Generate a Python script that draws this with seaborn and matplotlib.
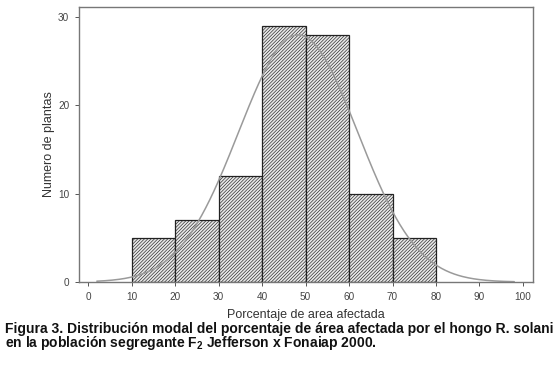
import numpy as np
import pandas as pd
import matplotlib
matplotlib.use("Agg")
import matplotlib.pyplot as plt
import seaborn as sns

# histogram classes (lower edge of each 10% class) and counts
bin_left = [10, 20, 30, 40, 50, 60, 70]
counts = [5, 7, 12, 29, 28, 10, 5]
bin_width = 10
# normal curve fitted over the histogram
curve_mean = 48.3
curve_sd = 13.7

xticks = [0, 10, 20, 30, 40, 50, 60, 70, 80, 90, 100]
yticks = [0, 10, 20, 30]

sns.set_style("white")
plt.rcParams['font.family'] = ['Liberation Sans', 'DejaVu Sans']
plt.rcParams['mathtext.fontset'] = 'custom'
plt.rcParams['mathtext.bf'] = 'Liberation Sans:bold'
plt.rcParams['mathtext.rm'] = 'Liberation Sans'
plt.rcParams['hatch.color'] = '#8c8c8c'
plt.rcParams['hatch.linewidth'] = 0.45

df = pd.DataFrame({'mid': np.array(bin_left) + bin_width / 2, 'n': counts})
edges = list(bin_left) + [bin_left[-1] + bin_width]

fig = plt.figure(figsize=(5.55, 3.7), dpi=100)
ax = fig.add_axes([0.1423, 0.2378, 0.818, 0.743])

sns.histplot(data=df, x='mid', weights='n', bins=edges, ax=ax,
             color='#e8e8e8', edgecolor='#222222', linewidth=0.9, alpha=1)
for p in ax.patches:
    p.set_hatch('//////////')

# fitted normal curve, scaled to counts
total = sum(counts)
xs = np.linspace(2, 98, 300)
ys = total * bin_width * np.exp(-(xs - curve_mean) ** 2 / (2 * curve_sd ** 2)) / (curve_sd * np.sqrt(2 * np.pi))
sns.lineplot(x=xs, y=ys, ax=ax, color='#9a9a9a', linewidth=1.1)

ax.set_xlim(-2.1, 102.3)
ax.set_ylim(0, 31.1)
ax.set_xticks(xticks)
ax.set_yticks(yticks)
ax.tick_params(axis='both', direction='out', length=3, width=0.7, color='#555555',
               labelsize=7.2, labelcolor='#444444', bottom=True, left=True, pad=4)
for s in ax.spines.values():
    s.set_color('#777777')
    s.set_linewidth(1.0)

ax.set_xlabel('Porcentaje de area afectada', fontsize=9, color='#333333', labelpad=5)
ax.set_ylabel('Numero de plantas', fontsize=9, color='#333333', labelpad=2)

fig.text(0.009, 0.111, 'Figura 3. Distribución modal del porcentaje de área afectada por el hongo R. solani',
         fontsize=10, fontweight='bold', color='#111111', va='center', ha='left')
fig.text(0.009, 0.072, r'en la población segregante F$_\mathbf{2}$ Jefferson x Fonaiap 2000.',
         fontsize=10, fontweight='bold', color='#111111', va='center', ha='left')

fig.savefig('out.png', dpi=100)
